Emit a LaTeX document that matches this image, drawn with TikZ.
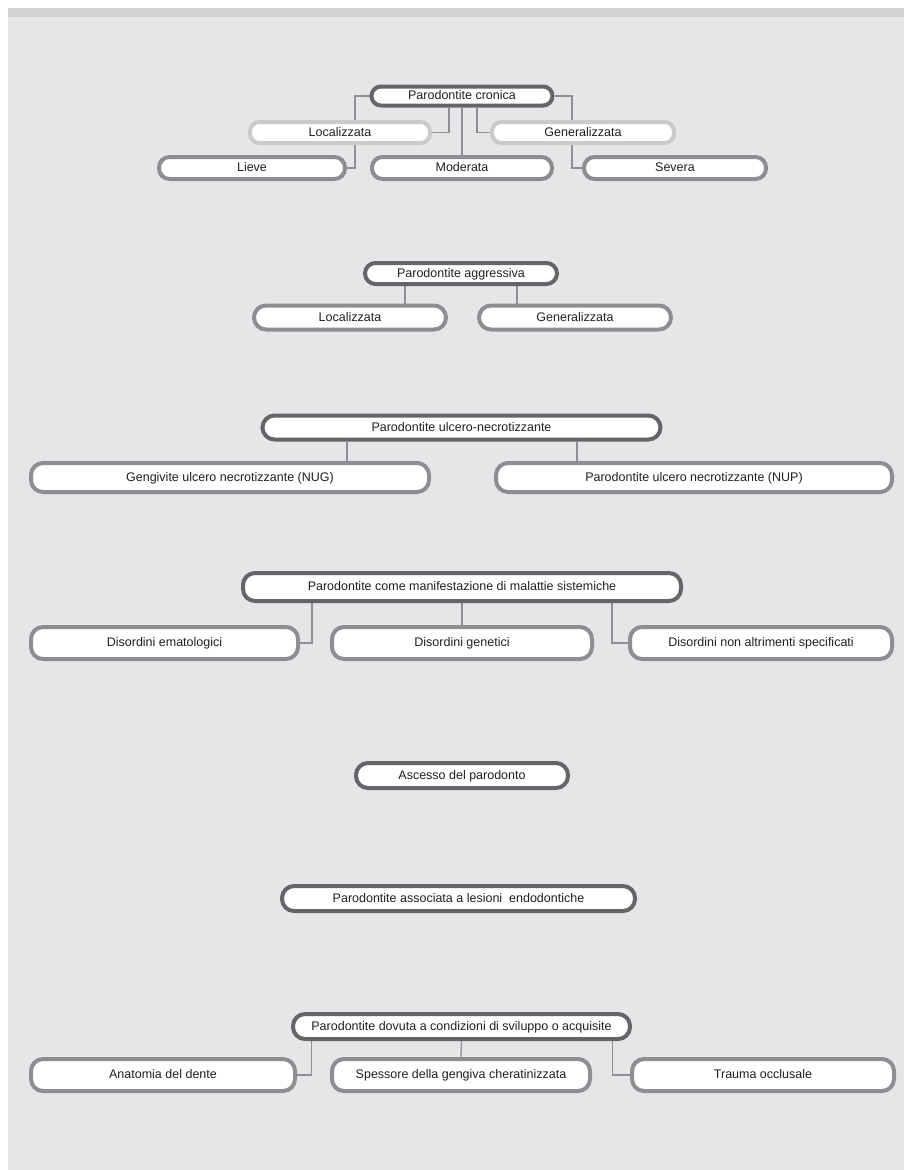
\documentclass[tikz,border=0pt]{standalone}
\usepackage{fontspec}
\setmainfont{Liberation Sans}
\usetikzlibrary{calc}
\definecolor{bggray}{HTML}{E5E6E8}
\definecolor{bandgray}{HTML}{D1D2D4}
\definecolor{parentc}{HTML}{646568}
\definecolor{childc}{HTML}{8C8E91}
\definecolor{lightc}{HTML}{C9CACC}
\definecolor{linkc}{HTML}{8E9093}
\definecolor{txtc}{HTML}{231F20}
\pgfdeclarelayer{back}
\pgfdeclarelayer{lines}
\pgfsetlayers{back,lines,main}
\tikzset{
  boxbase/.style={rectangle, rounded corners=12pt, fill=white, line width=4pt,
    text=txtc, font=\fontsize{12.5}{14}\selectfont, inner sep=2pt, align=center,
    text height=9.5pt, text depth=2pt},
  parentbox/.style={boxbase, draw=parentc},
  childbox/.style={boxbase, draw=childc},
  lightbox/.style={boxbase, draw=lightc},
  small/.style={rounded corners=9.5pt},
  medium/.style={rounded corners=10.5pt},
  link/.style={draw=linkc, line width=1.3pt}
}
\begin{document}
\begin{tikzpicture}[x=1pt,y=-1pt]
\begin{pgfonlayer}{back}
  \fill[white] (0,0) rectangle (904,1170);
  \fill[bandgray] (8,8) rectangle (904,17);
  \fill[bggray] (8,17) rectangle (904,1170);
\end{pgfonlayer}
\useasboundingbox (0,0) rectangle (904,1170);

% Section 1
\node[parentbox, small, minimum width=181pt, minimum height=19pt] (cronica) at (462,96) {Parodontite cronica};
\node[lightbox, small, minimum width=180pt, minimum height=21pt] (loc1) at (340,132.5) {Localizzata};
\node[lightbox, small, minimum width=182pt, minimum height=21pt] (gen1) at (583,132.5) {Generalizzata};
\node[childbox, medium, minimum width=186pt, minimum height=22pt] (lieve) at (252,168) {Lieve};
\node[childbox, medium, minimum width=180pt, minimum height=22pt] (moderata) at (462,168) {Moderata};
\node[childbox, medium, minimum width=182pt, minimum height=22pt] (severa) at (675,168) {Severa};

% Section 2
\node[parentbox, medium, minimum width=192pt, minimum height=21pt] (aggr) at (461,273.5) {Parodontite aggressiva};
\node[childbox, minimum width=192pt, minimum height=24pt] (loc2) at (350,317.5) {Localizzata};
\node[childbox, minimum width=192pt, minimum height=24pt] (gen2) at (575,317.5) {Generalizzata};

% Section 3
\node[parentbox, minimum width=398pt, minimum height=24pt] (ulcero) at (461.5,427.5) {Parodontite ulcero-necrotizzante};
\node[childbox, minimum width=398pt, minimum height=29pt] (nug) at (230,477.5) {Gengivite ulcero necrotizzante (NUG)};
\node[childbox, minimum width=396pt, minimum height=29pt] (nup) at (694,477.5) {Parodontite ulcero necrotizzante (NUP)};

% Section 4
\node[parentbox, minimum width=438pt, minimum height=28pt] (sist) at (462,587) {Parodontite come manifestazione di malattie sistemiche};
\node[childbox, minimum width=267pt, minimum height=32pt] (emat) at (164.5,643) {Disordini ematologici};
\node[childbox, minimum width=260pt, minimum height=32pt] (genet) at (462,643) {Disordini genetici};
\node[childbox, minimum width=262pt, minimum height=32pt] (nonalt) at (761,643) {Disordini non altrimenti specificati};

% Section 5
\node[parentbox, minimum width=212pt, minimum height=25pt] (ascesso) at (462,775.5) {Ascesso del parodonto};

% Section 6
\node[parentbox, minimum width=353pt, minimum height=25pt] (assoc) at (458.5,898.5) {Parodontite associata a lesioni \ endodontiche};

% Section 7
\node[parentbox, minimum width=337pt, minimum height=25pt, inner sep=1pt] (dovuta) at (461.5,1026.5) {Parodontite dovuta a condizioni di sviluppo o acquisite};
\node[childbox, minimum width=264pt, minimum height=32pt] (anat) at (163,1075) {Anatomia del dente};
\node[childbox, minimum width=258pt, minimum height=32pt] (spess) at (461,1075) {Spessore della gengiva cheratinizzata};
\node[childbox, minimum width=262pt, minimum height=32pt] (trauma) at (763,1075) {Trauma occlusale};

\begin{pgfonlayer}{lines}
  % Section 1
  \draw[link] (cronica.west) -| ([xshift=15pt]loc1.north);
  \draw[link] ([xshift=15pt]loc1.south) |- (lieve.east);
  \draw[link] (cronica.east) -| ([xshift=-11pt]gen1.north);
  \draw[link] ([xshift=-11pt]gen1.south) |- (severa.west);
  \draw[link] ([xshift=-13pt]cronica.south) |- (loc1.east);
  \draw[link] (cronica.south) -- (moderata.north);
  \draw[link] ([xshift=15pt]cronica.south) |- (gen1.west);
  % Section 2
  \draw[link] ([xshift=55pt]loc2.north) -- ([xshift=55pt]loc2.north |- aggr.south);
  \draw[link] ([xshift=-58pt]gen2.north) -- ([xshift=-58pt]gen2.north |- aggr.south);
  % Section 3
  \draw[link] ([xshift=117pt]nug.north) -- ([xshift=117pt]nug.north |- ulcero.south);
  \draw[link] ([xshift=-117pt]nup.north) -- ([xshift=-117pt]nup.north |- ulcero.south);
  % Section 4
  \draw[link] ([xshift=-150pt]sist.south) |- (emat.east);
  \draw[link] (sist.south) -- (genet.north);
  \draw[link] ([xshift=150pt]sist.south) |- (nonalt.west);
  % Section 7
  \draw[link] ([xshift=-150pt]dovuta.south) |- (anat.east);
  \draw[link] (dovuta.south) -- (spess.north);
  \draw[link] ([xshift=151pt]dovuta.south) |- (trauma.west);
\end{pgfonlayer}
\end{tikzpicture}
\end{document}
